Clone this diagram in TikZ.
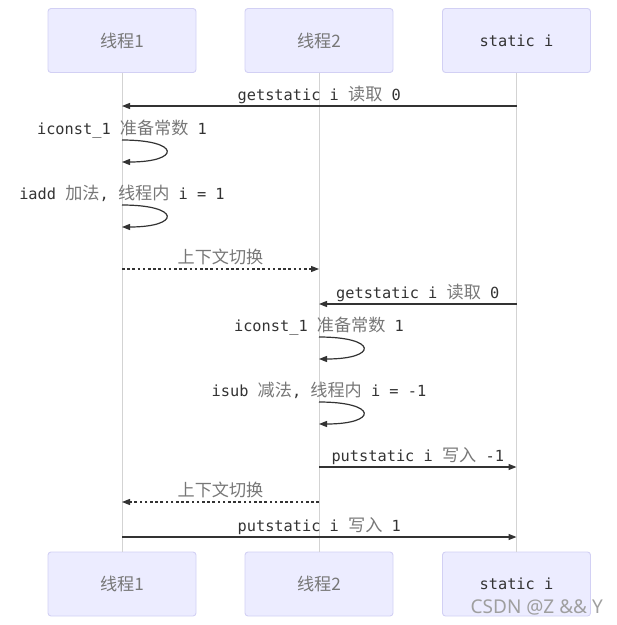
\documentclass[tikz,border=0pt]{standalone}
\usepackage{fontspec}
\setmonofont{DejaVu Sans Mono}
\newfontfamily\cjk[Scale=1.12]{Noto Sans CJK SC}
\newfontfamily\wmfont{Noto Sans}
\usepackage{xcolor}
\definecolor{actorfill}{HTML}{ECECFF}
\definecolor{actordraw}{HTML}{D2D0F4}
\definecolor{lifegray}{HTML}{D3D3D3}
\definecolor{msgdark}{HTML}{333333}
\definecolor{zhgray}{HTML}{777777}
\usetikzlibrary{arrows.meta, calc}
\newcommand\zhtxt[1]{{\cjk\color{zhgray}#1}}
\newcommand\msgfont{\fontsize{15.3}{18}\selectfont\ttfamily}
\tikzset{
  actor/.style ={rectangle, rounded corners=3pt, draw=actordraw, line width=0.9pt, fill=actorfill,
                 text=msgdark, align=center, minimum width=148pt, minimum height=64pt, font=\msgfont},
  life/.style  ={draw=lifegray, line width=0.9pt},
  msg/.style   ={-{Triangle[length=8pt, width=6pt]}, line width=1.3pt, color=msgdark},
  msgd/.style  ={msg, line width=1.1pt, dash pattern=on 2.6pt off 2.6pt},
  loopmsg/.style={msg, line width=1.2pt},
  mlbl/.style  ={font=\msgfont, text=msgdark, inner sep=0pt, anchor=base, yshift=6pt},
}
\begin{document}
\begin{tikzpicture}[x=1pt, y=-1pt]
  \useasboundingbox (0,0) rectangle (617,625);
  % actors, top and bottom
  \node[actor] (t1) at (122,40.5) {\zhtxt{线程1}};
  \node[actor] (t2) at (319,40.5) {\zhtxt{线程2}};
  \node[actor] (t3) at (516.5,40.5) {static i};
  \node[actor] (b1) at (122,584) {\zhtxt{线程1}};
  \node[actor] (b2) at (319,584) {\zhtxt{线程2}};
  \node[actor] (b3) at (516.5,584) {static i};
  \foreach \i in {1,2,3} \draw[life] (t\i) -- (b\i);
  % messages
  \coordinate (g1a) at (t3 |- 0,106); \coordinate (g1b) at (t1 |- 0,106);
  \draw[msg] (g1a) -- node[mlbl] {getstatic i \zhtxt{读取} 0} (g1b);
  \coordinate (s1a) at (t1 |- 0,269); \coordinate (s1b) at (t2 |- 0,269);
  \draw[msgd] (s1a) -- node[mlbl] {\zhtxt{上下文切换}} (s1b);
  \coordinate (g2a) at (t3 |- 0,304); \coordinate (g2b) at (t2 |- 0,304);
  \draw[msg] (g2a) -- node[mlbl] {getstatic i \zhtxt{读取} 0} (g2b);
  \coordinate (p1a) at (t2 |- 0,467); \coordinate (p1b) at (t3 |- 0,467);
  \draw[msg] (p1a) -- node[mlbl] {putstatic i \zhtxt{写入} -1} (p1b);
  \coordinate (s2a) at (t2 |- 0,502); \coordinate (s2b) at (t1 |- 0,502);
  \draw[msgd] (s2a) -- node[mlbl] {\zhtxt{上下文切换}} (s2b);
  \coordinate (p2a) at (t1 |- 0,537); \coordinate (p2b) at (t3 |- 0,537);
  \draw[msg] (p2a) -- node[mlbl] {putstatic i \zhtxt{写入} 1} (p2b);
  % self calls
  \foreach \n/\who/\y/\txt in {l1/t1/140/{iconst\_1 \zhtxt{准备常数} 1},
                               l2/t1/205/{iadd \zhtxt{加法}, \zhtxt{线程内} i = 1},
                               l3/t2/337/{iconst\_1 \zhtxt{准备常数} 1},
                               l4/t2/402/{isub \zhtxt{减法}, \zhtxt{线程内} i = -1}}{
    \coordinate (\n a) at (\who |- 0,\y); \coordinate (\n b) at (\who |- 0,\y+22);
    \draw[loopmsg] (\n a) .. controls +(59,0) and +(59,0) .. (\n b);
    \node[mlbl] (\n t) at (\n a) {\txt};
  }
  % watermark
  \node[font=\wmfont\fontsize{19}{21}\selectfont, text=gray!75, anchor=east, inner sep=0pt] (wm) at (603,607) {CSDN @Z \&\& Y};
\end{tikzpicture}
\end{document}
